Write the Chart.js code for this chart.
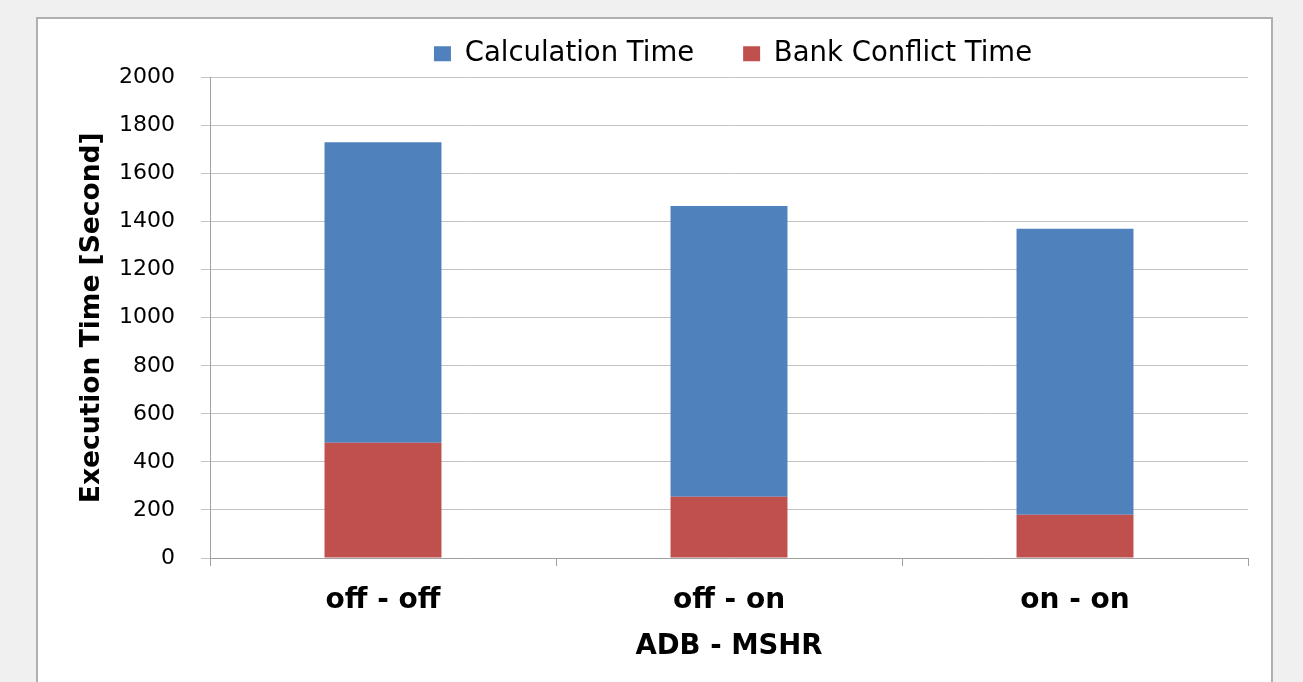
<!DOCTYPE html>
<html>
<head>
<meta charset="utf-8">
<script src="https://cdn.jsdelivr.net/npm/chart.js@4"></script>
<style>
  html, body { margin: 0; padding: 0; background: #f0f0f0; }
  body { width: 1303px; height: 682px; position: relative; overflow: hidden; }
  #panel { position: absolute; left: 36px; top: 17px; width: 1233px; height: 680px;
           background: #fff; border: 2px solid #b0b0b0; border-bottom: none; }
  #chart { position: absolute; left: 0; top: 0; }
</style>
</head>
<body>
<div id="panel"></div>
<canvas id="chart" width="1303" height="682"></canvas>
<script>
const categories = ['off - off', 'off - on', 'on - on'];
const bankConflict = [480, 255, 180];
const calculation = [1250, 1210, 1190];

const FONT = 'DejaVu Sans, Verdana, sans-serif';
const grid = '#c4c4c4';

// centre the legend over the plot area instead of the whole canvas
const legendOverPlot = {
  id: 'legendOverPlot',
  afterLayout(chart) {
    const lg = chart.legend, ca = chart.chartArea;
    if (!lg) return;
    lg.left = ca.left + 4;
    lg.right = ca.right + 4;
  }
};

new Chart(document.getElementById('chart'), {
  type: 'bar',
  data: {
    labels: categories,
    datasets: [
      { label: 'Bank Conflict Time', data: bankConflict, backgroundColor: '#c0504d' },
      { label: 'Calculation Time', data: calculation, backgroundColor: '#4f81bd' }
    ]
  },
  plugins: [legendOverPlot],
  options: {
    responsive: false,
    animation: false,
    devicePixelRatio: 1,
    layout: { padding: { left: 72, right: 55, top: 26, bottom: 19 } },
    datasets: { bar: { barPercentage: 0.338, categoryPercentage: 1 } },
    plugins: {
      tooltip: { enabled: false },
      legend: {
        position: 'top',
        labels: {
          color: '#000',
          font: { family: FONT, size: 27.5 },
          boxWidth: 17, boxHeight: 15, padding: 14,
          sort: (a, b) => b.datasetIndex - a.datasetIndex,
          generateLabels: chart => {
            const items = Chart.defaults.plugins.legend.labels.generateLabels(chart);
            // wider gap after the first entry, like the original
            items.forEach(it => { if (it.datasetIndex === 1) it.text += '    '; });
            return items;
          }
        }
      }
    },
    scales: {
      x: {
        stacked: true,
        grid: { offset: true, drawOnChartArea: false, color: '#a0a0a0', tickLength: 8 },
        border: { color: '#a0a0a0' },
        ticks: { color: '#000', font: { family: FONT, size: 28, weight: 'bold' }, padding: 18 },
        title: { display: true, text: 'ADB - MSHR', color: '#000', padding: 0,
                 font: { family: FONT, size: 27.5, weight: 'bold' } },
        afterFit: s => { s.height = 105; }
      },
      y: {
        stacked: true,
        min: 0, max: 2000,
        ticks: { stepSize: 200, color: '#000', font: { family: FONT, size: 22 }, padding: 26,
                 format: { useGrouping: false } },
        grid: { color: grid, tickLength: 9 },
        border: { color: '#a0a0a0' },
        title: { display: true, text: 'Execution Time [Second]', color: '#000', padding: { top: 4, bottom: 4 },
                 font: { family: FONT, size: 26.5, weight: 'bold' } },
        afterFit: s => { s.width = 138; }
      }
    }
  }
});
</script>
</body>
</html>
